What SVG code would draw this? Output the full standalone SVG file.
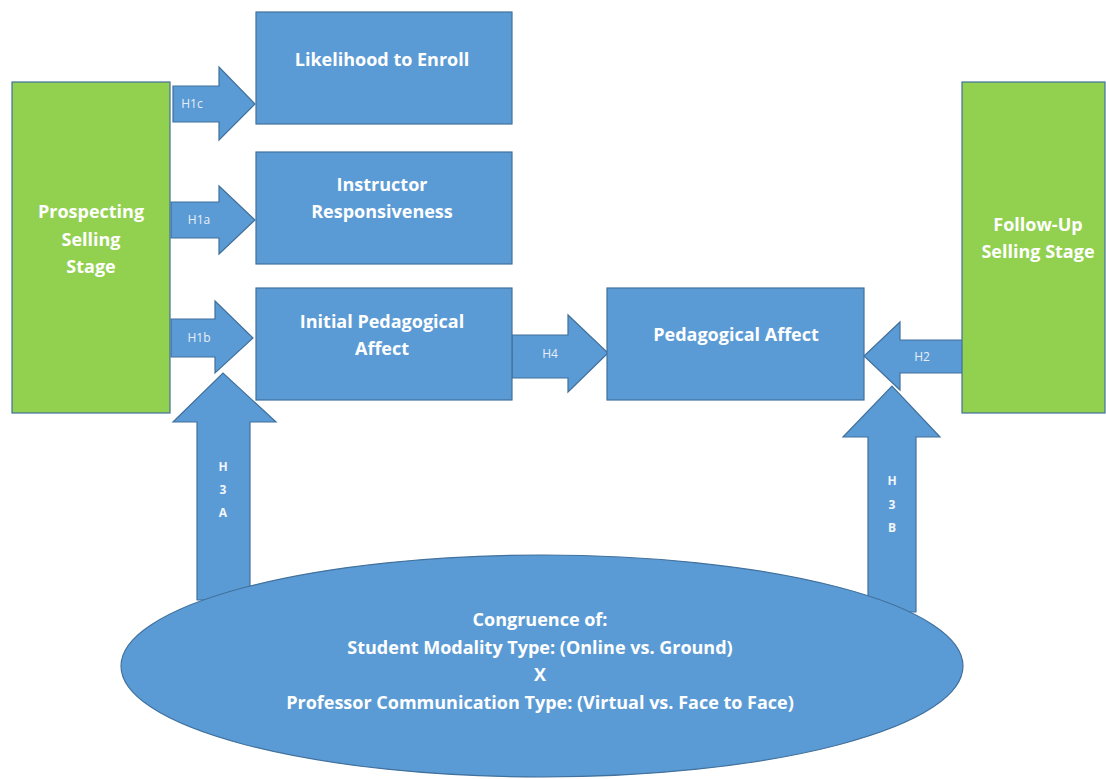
<svg xmlns="http://www.w3.org/2000/svg" width="1106" height="779" viewBox="0 0 1106 779">
  <style>
    .blue { fill: #5B9BD5; stroke: #41719C; stroke-width: 1.2; }
    .green { fill: #92D050; stroke: #41719C; stroke-width: 1.2; }
    .lbl { font-family: "Open Sans", "Liberation Sans", sans-serif; font-weight: bold; fill: #FFFFFF; text-anchor: middle; }
    .big { font-size: 18px; }
    .small { font-size: 12px; font-weight: normal; fill: #E8EEF6; }
    .tag { font-size: 12px; font-weight: bold; fill: #F2F6FB; }
  </style>
  <rect width="1106" height="779" fill="#FFFFFF"/>

  <!-- hypothesis arrows -->
  <g id="connectors">
    <g id="h1c">
      <polygon class="blue" points="173,86 219,86 219,67 255,104 219,140 219,122 173,122"/>
      <text class="lbl small" x="192" y="108">H1c</text>
    </g>
    <g id="h1a">
      <polygon class="blue" points="171,202 219,202 219,186 255,220 219,254 219,238 171,238"/>
      <text class="lbl small" x="199" y="224">H1a</text>
    </g>
    <g id="h1b">
      <polygon class="blue" points="171,319 215,319 215,301 253,338 215,373 215,357 171,357"/>
      <text class="lbl small" x="199" y="342">H1b</text>
    </g>
    <g id="h4">
      <polygon class="blue" points="512,335 568,335 568,315 608,353 568,392 568,378 512,378"/>
      <text class="lbl small" x="550" y="358">H4</text>
    </g>
    <g id="h2">
      <polygon class="blue" points="964,340 900,340 900,322 864,356 900,390 900,373 964,373"/>
      <text class="lbl small" x="922" y="361">H2</text>
    </g>
    <g id="h3a">
      <polygon class="blue" points="197,600 197,422 173,422 223,373 276,422 250,422 250,600"/>
      <text class="lbl tag" x="223" y="471">H</text>
      <text class="lbl tag" x="223" y="494">3</text>
      <text class="lbl tag" x="223" y="517">A</text>
    </g>
    <g id="h3b">
      <polygon class="blue" points="868,612 868,437 843,437 892,386 940,437 916,437 916,612"/>
      <text class="lbl tag" x="892" y="485">H</text>
      <text class="lbl tag" x="892" y="509">3</text>
      <text class="lbl tag" x="892" y="532">B</text>
    </g>
  </g>

  <g id="prospecting">
    <rect class="green" x="12" y="82" width="158" height="331"/>
    <text class="lbl big" x="91" y="218">Prospecting</text>
    <text class="lbl big" x="91" y="246">Selling</text>
    <text class="lbl big" x="91" y="273">Stage</text>
  </g>

  <g id="followup">
    <rect class="green" x="962" y="82" width="143" height="331"/>
    <text class="lbl big" x="1038" y="231">Follow-Up</text>
    <text class="lbl big" x="1038" y="258">Selling Stage</text>
  </g>

  <g id="likelihood">
    <rect class="blue" x="256" y="12" width="256" height="112"/>
    <text class="lbl big" x="382" y="66">Likelihood to Enroll</text>
  </g>

  <g id="responsiveness">
    <rect class="blue" x="256" y="152" width="256" height="112"/>
    <text class="lbl big" x="382" y="191">Instructor</text>
    <text class="lbl big" x="382" y="218">Responsiveness</text>
  </g>

  <g id="initial-affect">
    <rect class="blue" x="256" y="288" width="256" height="112"/>
    <text class="lbl big" x="382" y="328">Initial Pedagogical</text>
    <text class="lbl big" x="382" y="355">Affect</text>
  </g>

  <g id="pedagogical-affect">
    <rect class="blue" x="607" y="288" width="257" height="112"/>
    <text class="lbl big" x="736" y="341">Pedagogical Affect</text>
  </g>

  <g id="congruence">
    <ellipse class="blue" cx="542" cy="666" rx="421" ry="111"/>
    <text class="lbl big" x="540" y="626">Congruence of:</text>
    <text class="lbl big" x="540" y="654">Student Modality Type: (Online vs. Ground)</text>
    <text class="lbl big" x="540" y="681">X</text>
    <text class="lbl big" x="540" y="709">Professor Communication Type: (Virtual vs. Face to Face)</text>
  </g>
</svg>
